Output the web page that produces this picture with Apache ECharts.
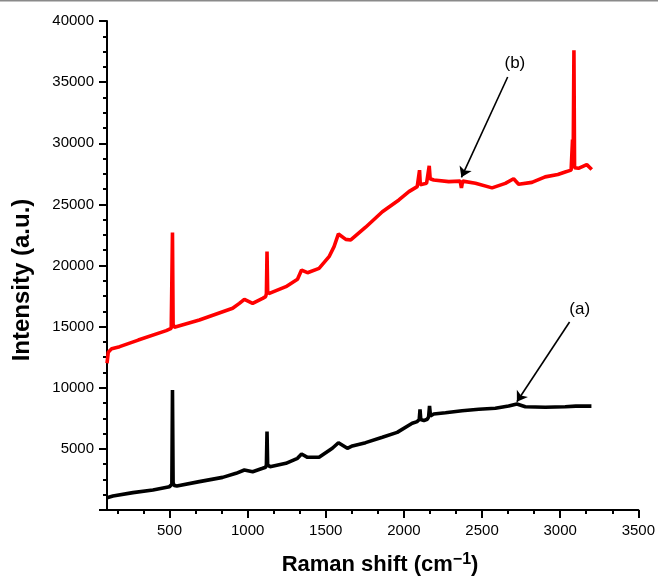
<!DOCTYPE html>
<html>
<head>
<meta charset="utf-8">
<script src="https://cdn.jsdelivr.net/npm/echarts@6/dist/echarts.min.js"></script>
<style>html,body{margin:0;padding:0;background:#fff}#c{width:658px;height:579px}</style>
</head>
<body>
<div id="c"></div>
<script>
// ---- data ----
const shiftA = [100,138,266,394,500,512,515,519,523,530,547,691,840,926,979,1032,1096,1115,1120,1124,1128,1135,1143,1245,1319,1345,1383,1457,1542,1581,1638,1670,1755,1862,1957,2053,2085,2098,2103,2108,2128,2149,2158,2164,2170,2191,2266,2372,2479,2585,2670,2723,2777,2904,3032,3100,3200];
const intensityA = [1000,1145,1420,1640,1910,1980,2100,9820,2250,2000,1960,2320,2670,3000,3270,3130,3410,3500,3700,6410,3700,3550,3540,3820,4230,4580,4310,4310,5050,5500,5050,5240,5510,5950,6350,7090,7230,7400,8240,7400,7310,7420,7600,8510,7700,7850,7960,8120,8240,8320,8510,8670,8450,8400,8450,8500,8500];

const shiftB = [100,108,130,181,300,479,511,515,519,523,531,543,691,904,947,979,1032,1096,1115,1120,1124,1128,1135,1143,1245,1319,1345,1383,1457,1521,1553,1581,1628,1660,1755,1862,1968,2032,2085,2095,2100,2105,2117,2145,2155,2162,2168,2191,2287,2360,2368,2376,2458,2564,2649,2702,2734,2819,2904,2985,3032,3070,3076,3079,3083,3088,3092,3117,3170,3202];
const intensityB = [12000,12900,13200,13360,13900,14670,14860,15000,22700,15200,14950,14940,15540,16500,16900,17230,16900,17310,17450,17700,21150,17900,17700,17670,18270,18870,19630,19410,19770,20720,21540,22580,22140,22090,23130,24400,25360,26040,26450,26550,27800,26600,26580,26720,26800,28150,27100,26990,26860,26900,26350,26900,26720,26350,26720,27100,26650,26800,27250,27450,27650,27800,27900,30300,28500,37600,28000,27950,28250,27850];

const xMajorTicks = [500,1000,1500,2000,2500,3000,3500];
const xMinorTicks = [166.7,333.3,666.7,833.3,1166.7,1333.3,1666.7,1833.3,2166.7,2333.3,2666.7,2833.3,3166.7,3333.3];
const yTicks = [5000,10000,15000,20000,25000,30000,35000,40000];

// annotations (data coordinates)
const arrowA = [[3060,15380],[2723,8860]];
const labelA = [3125,16440];
const arrowB = [[2664,35420],[2368,27215]];
const labelB = [2710,36565];

const zip = (xs, ys) => xs.map((x, i) => [x, ys[i]]);
const FONT = "'Liberation Sans', Arial, Helvetica, sans-serif";

const chart = echarts.init(document.getElementById('c'), null, {renderer: 'canvas'});

function arrowLine(arr) {
  return {
    silent: true, animation: false,
    symbol: ['none', 'arrow'], symbolSize: 10,
    lineStyle: {color: '#000', width: 1.6, type: 'solid'},
    label: {show: false},
    data: [[{coord: arr[0]}, {coord: arr[1]}]]
  };
}
function textMark(pos, txt) {
  return {
    silent: true, animation: false,
    symbol: 'rect', symbolSize: 1,
    itemStyle: {color: 'rgba(0,0,0,0)'},
    label: {show: true, position: 'inside', formatter: txt, color: '#000', fontSize: 17, fontFamily: FONT},
    data: [{coord: pos}]
  };
}

chart.setOption({
  animation: false,
  backgroundColor: '#fff',
  grid: {left: 107, right: 18, top: 21, bottom: 69, containLabel: false},
  xAxis: [{
    type: 'value', min: 100, max: 3500,
    axisLine: {show: true, onZero: false, lineStyle: {color: '#000', width: 2}},
    axisTick: {show: true, length: 8, customValues: xMajorTicks, lineStyle: {color: '#000', width: 2}},
    axisLabel: {show: true, customValues: xMajorTicks, margin: 13, color: '#000', fontSize: 15, fontFamily: FONT,
      formatter: v => String(Math.round(v))},
    splitLine: {show: false}
  }, {
    type: 'value', min: 100, max: 3500, position: 'bottom',
    axisLine: {show: false, onZero: false},
    axisTick: {show: true, length: 4, customValues: xMinorTicks, lineStyle: {color: '#000', width: 2}},
    axisLabel: {show: false},
    splitLine: {show: false}
  }],
  yAxis: {
    type: 'value', min: 0, max: 40000, interval: 5000,
    axisLine: {show: true, onZero: false, lineStyle: {color: '#000', width: 2}},
    axisTick: {show: true, length: 8, lineStyle: {color: '#000', width: 2}},
    minorTick: {show: true, splitNumber: 4, length: 4, lineStyle: {color: '#000', width: 2}},
    axisLabel: {show: true, margin: 13, color: '#000', fontSize: 15, fontFamily: FONT,
      formatter: v => yTicks.includes(v) ? String(v) : ''},
    splitLine: {show: false}, minorSplitLine: {show: false}
  },
  series: [{
    type: 'line', name: '(a)', data: zip(shiftA, intensityA),
    showSymbol: false, symbol: 'none', smooth: false,
    lineStyle: {color: '#000', width: 3.6}, z: 3,
    markLine: arrowLine(arrowA), markPoint: textMark(labelA, '(a)')
  }, {
    type: 'line', name: '(b)', data: zip(shiftB, intensityB),
    showSymbol: false, symbol: 'none', smooth: false,
    lineStyle: {color: '#ff0000', width: 3.6}, z: 3,
    markLine: arrowLine(arrowB), markPoint: textMark(labelB, '(b)')
  }],
  graphic: [
    {type: 'rect', shape: {x: 0, y: 0, width: 658, height: 1.5}, style: {fill: '#8a8a8a'}, silent: true},
    {type: 'text', x: 22, y: 280, rotation: Math.PI / 2,
      style: {text: 'Intensity (a.u.)', fontSize: 24, fontWeight: 'bold', fontFamily: FONT, fill: '#000', align: 'center', verticalAlign: 'middle'}},
    {type: 'text', x: 380, y: 565,
      style: {text: '{a|Raman shift (cm}{s|−1}{a|)}', align: 'center', verticalAlign: 'middle', fill: '#000',
        rich: {
          a: {fontSize: 22, fontWeight: 'bold', fontFamily: FONT, fill: '#000', lineHeight: 26},
          s: {fontSize: 16, fontWeight: 'bold', fontFamily: FONT, fill: '#000', verticalAlign: 'top', padding: [0, 0, 10, 0], lineHeight: 26}
        }}}
  ]
});
</script>
</body>
</html>
